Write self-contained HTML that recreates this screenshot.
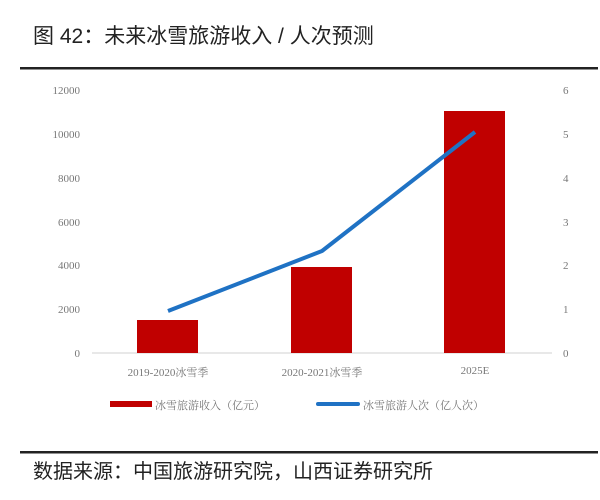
<!DOCTYPE html>
<html><head><meta charset="utf-8"><style>
body{margin:0;width:600px;height:495px;background:#fff;overflow:hidden}
</style></head><body>
<svg width="600" height="495" xmlns="http://www.w3.org/2000/svg">
<text x="33" y="43" font-family="'Liberation Sans','Noto Sans CJK SC',sans-serif" font-size="21" fill="#222">图 42：未来冰雪旅游收入 / 人次预测</text>
<rect x="20" y="67" width="578" height="2.5" fill="#222"/>
<g font-family="'Liberation Serif','Noto Serif CJK SC',serif" font-size="11" fill="#777">
<text x="80" y="94" text-anchor="end">12000</text>
<text x="80" y="138" text-anchor="end">10000</text>
<text x="80" y="182" text-anchor="end">8000</text>
<text x="80" y="226" text-anchor="end">6000</text>
<text x="80" y="269" text-anchor="end">4000</text>
<text x="80" y="313" text-anchor="end">2000</text>
<text x="80" y="357" text-anchor="end">0</text>
<text x="563" y="94">6</text>
<text x="563" y="138">5</text>
<text x="563" y="182">4</text>
<text x="563" y="226">3</text>
<text x="563" y="269">2</text>
<text x="563" y="313">1</text>
<text x="563" y="357">0</text>
<text x="168" y="376" text-anchor="middle">2019-2020冰雪季</text>
<text x="322" y="376" text-anchor="middle">2020-2021冰雪季</text>
<text x="475" y="374" text-anchor="middle">2025E</text>
<text x="155" y="409">冰雪旅游收入（亿元）</text>
<text x="363" y="409">冰雪旅游人次（亿人次）</text>
</g>
<line x1="92" y1="353" x2="552" y2="353" stroke="#d0d0d0" stroke-width="1"/>
<rect x="137" y="320" width="61" height="33" fill="#c00000"/>
<rect x="291" y="267" width="61" height="86" fill="#c00000"/>
<rect x="444" y="111" width="61" height="242" fill="#c00000"/>
<polyline points="168,311 322,251 475,132" fill="none" stroke="#1f72c4" stroke-width="4" stroke-linejoin="round"/>
<rect x="110" y="401" width="42" height="6" fill="#c00000"/>
<line x1="318" y1="404" x2="358" y2="404" stroke="#1f72c4" stroke-width="4" stroke-linecap="round"/>
<rect x="20" y="451" width="578" height="2.5" fill="#222"/>
<text x="33" y="478" font-family="'Liberation Sans','Noto Sans CJK SC',sans-serif" font-size="20" fill="#222">数据来源：中国旅游研究院，山西证券研究所</text>
</svg>
</body></html>
